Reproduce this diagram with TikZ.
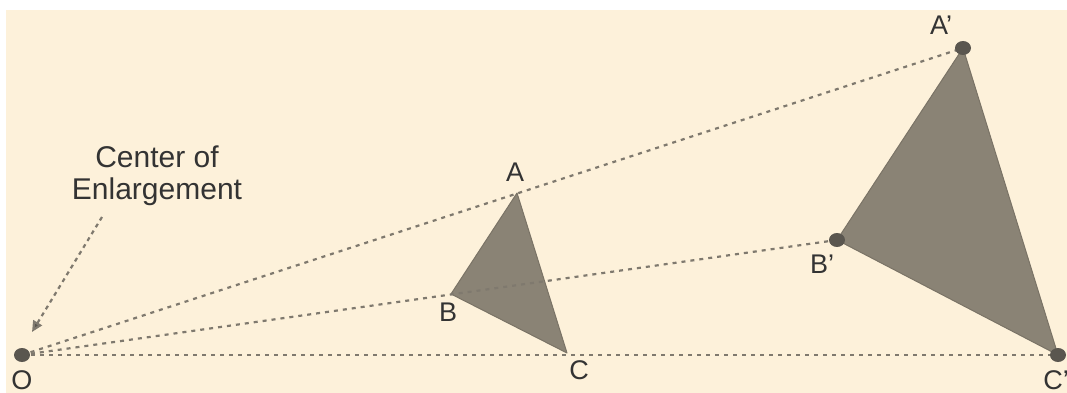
\documentclass[tikz,border=0pt]{standalone}
\usepackage{fontspec}
\setmainfont{Liberation Sans}
\usetikzlibrary{arrows.meta,shapes.geometric}
\definecolor{bg}{HTML}{FDF1DA}
\definecolor{tri}{HTML}{8A8375}
\definecolor{triedge}{HTML}{7A7366}
\definecolor{ptc}{HTML}{5A564F}
\definecolor{dotline}{HTML}{7F796E}
\definecolor{txt}{HTML}{333333}
\begin{document}
\begin{tikzpicture}[x=1pt,y=-1pt,
  lbl/.style={font=\fontsize{27}{32}\selectfont, text=txt, inner sep=0pt},
  note/.style={font=\fontsize{30}{32}\selectfont, text=txt, inner sep=0pt, align=center},
  ray/.style={draw=dotline, line width=2.2pt, dash pattern=on 4pt off 5pt},
  vdot/.style={ellipse, fill=ptc, inner sep=0pt, minimum width=16pt, minimum height=14pt},
  trifill/.style={fill=tri, draw=triedge, line width=1pt, line join=round}]
\fill[white] (0,0) rectangle (1067,393);
\fill[bg] (6,10) rectangle (1067,393);
\useasboundingbox (0,0) rectangle (1067,393);
\clip (0,0) rectangle (1067,393);
% points
\coordinate (O) at (22,355);
\coordinate (A) at (517,193);
\coordinate (B) at (451,294);
\coordinate (C) at (567,353);
\coordinate (Ap) at (963,48);
\coordinate (Bp) at (837,240);
\coordinate (Cp) at (1058,355);
% triangles
\path[trifill] (A) -- (B) -- (C) -- cycle;
\path[trifill] (Ap) -- (Bp) -- (Cp) -- cycle;
% rays
\draw[ray] (O) -- (Ap);
\draw[ray] (O) -- (Bp);
\draw[ray] (O) -- (Cp);
% dots
\node[vdot] (Odot) at (O) {};
\node[vdot] (Apdot) at (Ap) {};
\node[vdot] (Bpdot) at (Bp) {};
\node[vdot] (Cpdot) at (Cp) {};
% labels
\node[lbl] (lO) at (22,380) {O};
\node[lbl] (lA) at (515,172) {A};
\node[lbl] (lB) at (448,312) {B};
\node[lbl] (lC) at (579,370) {C};
\node[lbl] (lAp) at (941,25) {A\char"27};
\node[lbl] (lBp) at (822,264) {B\char"27};
\node[lbl] (lCp) at (1056,380) {C\char"27};
% note
\node[note, anchor=north] (note) at (157,146) {Center of\\Enlargement};
\coordinate (arrS) at (102,217);
\coordinate (arrE) at (32,332);
\draw[ray, dash pattern=on 4pt off 4pt, -{Triangle[length=11pt,width=10pt,fill=ptc]}] (arrS) -- (arrE);
\end{tikzpicture}
\end{document}
